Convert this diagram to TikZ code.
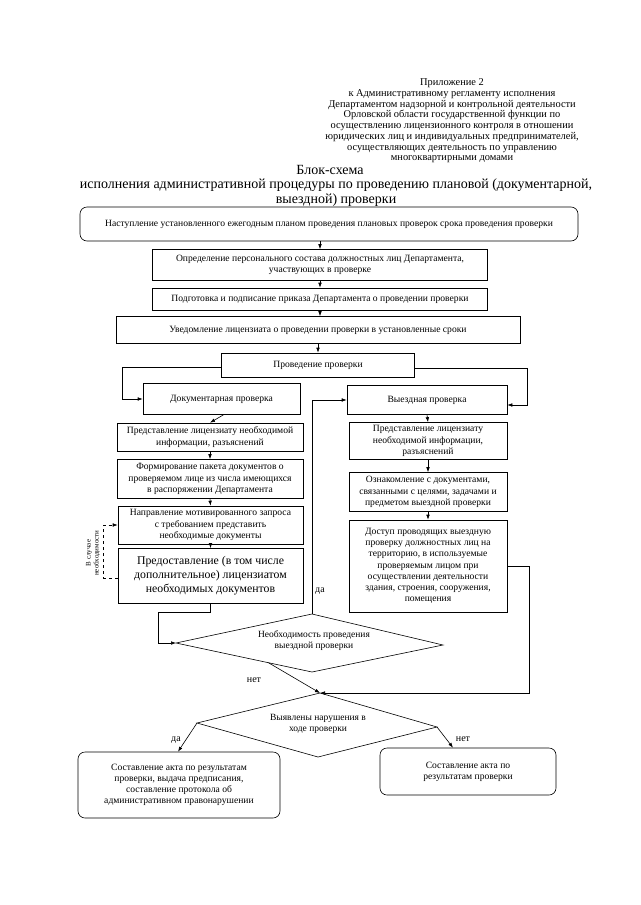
\documentclass[tikz,border=0pt]{standalone}
\usepackage{fontspec}
\setmainfont{Liberation Serif}
\usetikzlibrary{arrows.meta,calc}
\begin{document}
\begin{tikzpicture}[x=1pt,y=-1pt,
  box/.style={draw,line width=0.6pt,align=center,inner sep=2pt,font=\fontsize{9.6}{11.2}\selectfont},
  rbox/.style={box,rounded corners=7pt},
  arr/.style={line width=0.6pt,-{Latex[length=5pt,width=3.6pt]}},
  ln/.style={line width=0.6pt},
  lbl/.style={font=\fontsize{9.5}{11}\selectfont,align=center},
  yn/.style={font=\fontsize{10}{11}\selectfont,inner sep=1pt}
]
\useasboundingbox (0,0) rectangle (640,905);
\fill[white] (0,0) rectangle (640,905);

% header
\node[align=center,font=\fontsize{10.4}{10.7}\selectfont] (hdr) at (452,121)
 {Приложение 2\\к Административному регламенту исполнения\\Департаментом надзорной и контрольной деятельности\\Орловской области государственной функции по\\осуществлению лицензионного контроля в отношении\\юридических лиц и индивидуальных предпринимателей,\\осуществляющих деятельность по управлению\\многоквартирными домами};
\node[font=\fontsize{14}{15}\selectfont] (t1) at (330,170) {Блок-схема};
\node[align=center,font=\fontsize{14}{15}\selectfont] (t2) at (336,193)
 {исполнения административной процедуры по проведению плановой (документарной,\\выездной) проверки};

% top chain
\node[rbox,minimum width=498pt,minimum height=34pt] (b1) at (329,224)
 {Наступление установленного ежегодным планом проведения плановых проверок срока проведения проверки};
\node[box,minimum width=335pt,minimum height=31pt] (b2) at (320,265)
 {Определение персонального состава должностных лиц Департамента,\\участвующих в проверке};
\node[box,minimum width=335pt,minimum height=22pt] (b3) at (320,299)
 {Подготовка и подписание приказа Департамента о проведении проверки};
\node[box,minimum width=404pt,minimum height=27pt] (b4) at (318,330)
 {Уведомление лицензиата о проведении проверки в установленные сроки};
\node[box,minimum width=193pt,minimum height=24pt] (b5) at (318,365)
 {Проведение проверки};

\node[box,minimum width=157pt,minimum height=31pt] (b6) at (221.5,399) {Документарная проверка};
\node[box,minimum width=160pt,minimum height=29pt] (b7) at (427,400) {Выездная проверка};

% left column
\node[box,minimum width=186pt,minimum height=28pt] (b8) at (210,437)
 {Представление лицензиату необходимой\\информации, разъяснений};
\node[box,minimum width=186pt,minimum height=39pt] (b9) at (210,479)
 {Формирование пакета документов о\\проверяемом лице из числа имеющихся\\в распоряжении Департамента};
\node[box,minimum width=185pt,minimum height=38pt] (b10) at (210.5,525)
 {Направление мотивированного запроса\\с требованием представить\\необходимые документы};
\node[box,minimum width=185pt,minimum height=55pt,font=\fontsize{11.8}{14}\selectfont] (b11) at (210.5,576)
 {Предоставление (в том числе\\дополнительное) лицензиатом\\необходимых документов};

% right column
\node[box,minimum width=158pt,minimum height=37pt] (b12) at (428,441)
 {Представление лицензиату\\необходимой информации,\\разъяснений};
\node[box,minimum width=158pt,minimum height=39pt] (b13) at (428,492)
 {Ознакомление с документами,\\связанными с целями, задачами и\\предметом выездной проверки};
\node[box,minimum width=158pt,minimum height=92pt] (b14) at (428,566)
 {Доступ проводящих выездную\\проверку должностных лиц на\\территорию, в используемые\\проверяемым лицом при\\осуществлении деятельности\\здания, строения, сооружения,\\помещения};

% diamond 1
\coordinate (d1l) at (176,643);
\coordinate (d1t) at (312,614);
\coordinate (d1r) at (443,645);
\coordinate (d1b) at (312,672);
\draw[ln] (d1l) -- (d1t) -- (d1r) -- (d1b) -- cycle;
\node[lbl] (d1) at (314,641) {Необходимость проведения\\выездной проверки};

% diamond 2
\coordinate (d2l) at (197,723);
\coordinate (d2t) at (320,693);
\coordinate (d2r) at (437,727);
\coordinate (d2b) at (318,757);
\draw[ln] (d2l) -- (d2t) -- (d2r) -- (d2b) -- cycle;
\node[lbl] (d2) at (318,724) {Выявлены нарушения в\\ходе проверки};

% results
\node[rbox,minimum width=202pt,minimum height=66pt] (bL) at (179,785)
 {Составление акта по результатам\\проверки, выдача предписания,\\составление протокола об\\административном правонарушении};
\node[rbox,minimum width=176pt,minimum height=47pt] (bR) at (468,771.5)
 {Составление акта по\\результатам проверки};

% connectors
\draw[arr] (b2.north |- b1.south) -- (b2.north);
\draw[arr] (b2.south) -- (b3.north);
\draw[arr] (b3.south) -- (b3.south |- b4.north);
\draw[arr] (b4.south) -- (b5.north);
\draw[arr] ([yshift=-2pt]b5.west) -- ++(-99,0) |- (b6.west);
\draw[arr] ([yshift=-3pt]b5.east) -- ++(112,0) |- ([yshift=-5pt]b7.east);
\draw[arr] ([xshift=2pt]b6.south) -- (b8.north);
\draw[arr] (b8.south) -- (b9.north);
\draw[arr] (b9.south) -- (b10.north);
\draw[arr] (b10.south) -- (b11.north);
\draw[arr] (b7.south) -- (b12.north);
\draw[arr] (b12.south) -- (b13.north);
\draw[arr] (b13.south) -- (b14.north);
\draw[arr,dashed] ([yshift=-2pt]b11.west) -- ++(-14,0) |- (b10.west);
\node[rotate=90,align=center,font=\fontsize{7}{8}\selectfont,inner sep=0pt] (note) at (93,553) {В случае\\необходимости};
\draw[arr] (b11.south) -- ++(0,8) -- ++(-52,0) |- (d1l);
\draw[arr] (d1t) |- (b7.west);
\node[yn,anchor=west] (yes1) at (314,591) {да};
\draw[arr] (b14.east) -- ++(22,0) |- (d2t);
\draw[arr] ($(d1l)!0.68!(d1b)$) -- (d2t);
\node[yn] (no1) at (254,680) {нет};
\draw[arr] (d2l) -- ([xshift=-1pt]bL.north);
\node[yn] (yes2) at (176,740) {да};
\draw[arr] (d2r) -- ([xshift=-15pt]bR.north);
\node[yn] (no2) at (463,739) {нет};
\end{tikzpicture}
\end{document}
